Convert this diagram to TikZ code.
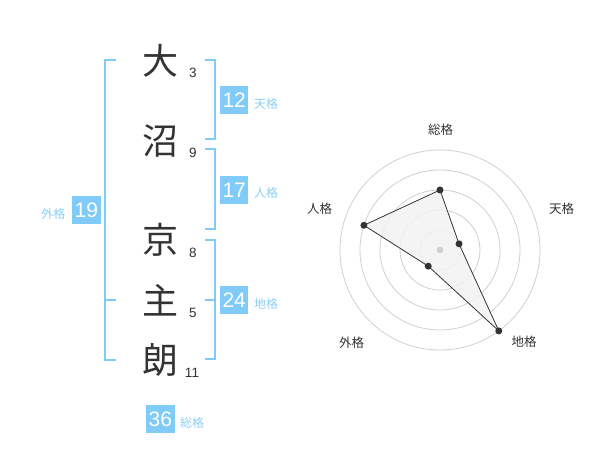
\documentclass[tikz,border=0pt]{standalone}
\usepackage{fontspec}
\setmainfont{Noto Sans CJK JP}
\newfontfamily\digitfont{Liberation Sans}
\usetikzlibrary{calc}
\definecolor{bluebox}{RGB}{128,203,248}
\definecolor{bluetxt}{RGB}{140,206,246}
\definecolor{ink}{RGB}{51,51,51}
\definecolor{ringgray}{RGB}{208,208,208}
\definecolor{polyfill}{RGB}{242,242,242}
\begin{document}
\begin{tikzpicture}[x=1pt,y=1pt,
  kanji/.style={font=\fontsize{36}{36}\selectfont, text=ink, inner sep=0pt},
  stroke/.style={font=\digitfont\fontsize{13.5}{13.5}\selectfont, text=ink, inner sep=0pt},
  numbox/.style={fill=bluebox, text=white, font=\digitfont\fontsize{21}{21}\selectfont, minimum width=28.5pt, minimum height=28.5pt, inner sep=0pt},
  lbl/.style={font=\fontsize{12}{12}\selectfont, text=bluetxt, inner sep=0pt},
  rlbl/.style={font=\fontsize{12.5}{12.5}\selectfont, text=ink, inner sep=0pt},
  brk/.style={draw=bluebox, line width=2pt},
  ring/.style={draw=ringgray, line width=0.8pt},
  dot/.style={circle, fill=ink, minimum size=7pt, inner sep=0pt}]
\useasboundingbox (0,0) rectangle (600,-470);

% kanji
\node[kanji] (k1) at (160,-61) {大};
\node[kanji] (k2) at (160,-141) {沼};
\node[kanji] (k3) at (160,-240) {京};
\node[kanji] (k4) at (160,-300) {主};
\node[kanji] (k5) at (160,-360) {朗};
% stroke counts
\node[stroke] (s1) at (193,-73) {3};
\node[stroke] (s2) at (193,-153) {9};
\node[stroke] (s3) at (193,-253) {8};
\node[stroke] (s4) at (193,-313) {5};
\node[stroke] (s5) at (192,-373) {11};

% brackets
\draw[brk] (116,-60) -- (104.7,-60) -- (104.7,-360) -- (116,-360);
\draw[brk] (104.7,-300) -- (116,-300);
\draw[brk] (205,-60) -- (214.5,-60) -- (214.5,-139.5) -- (205,-139.5);
\draw[brk] (205,-149.5) -- (214.5,-149.5) -- (214.5,-229.5) -- (205,-229.5);
\draw[brk] (205,-240) -- (214.5,-240) -- (214.5,-359.5) -- (205,-359.5);
\draw[brk] (205,-300) -- (214.5,-300);

% boxes
\node[numbox] (b12) at (234.2,-100.2) {12};
\node[lbl] (l12) at (266,-104) {天格};
\node[numbox] (b17) at (234.2,-190.2) {17};
\node[lbl] (l17) at (266,-193) {人格};
\node[numbox] (b19) at (86.3,-210.2) {19};
\node[lbl] (l19) at (53.5,-214) {外格};
\node[numbox] (b24) at (234.2,-300.2) {24};
\node[lbl] (l24) at (266,-304) {地格};
\node[numbox] (b36) at (160.3,-419.2) {36};
\node[lbl] (l36) at (192,-423) {総格};

% radar
\coordinate (c) at (440,-250);
\foreach \r in {20,40,60,80,100} \draw[ring] (c) circle (\r);
\coordinate (p1) at ($(c)+(90:60)$);
\coordinate (p2) at ($(c)+(18:20)$);
\coordinate (p3) at ($(c)+(-54:100)$);
\coordinate (p4) at ($(c)+(234:20)$);
\coordinate (p5) at ($(c)+(162:80)$);
\draw[fill=polyfill, fill opacity=0.85, draw=ink, line width=0.8pt] (p1) -- (p2) -- (p3) -- (p4) -- (p5) -- cycle;
\fill[ringgray] (c) circle (3.3);
\foreach \p in {p1,p2,p3,p4,p5} \node[dot] at (\p) {};
\node[rlbl] (r1) at (440.5,-130) {総格};
\node[rlbl] (r2) at (561.5,-208.5) {天格};
\node[rlbl] (r3) at (524,-342) {地格};
\node[rlbl] (r4) at (351.5,-342.5) {外格};
\node[rlbl] (r5) at (319.5,-209) {人格};
\end{tikzpicture}
\end{document}
